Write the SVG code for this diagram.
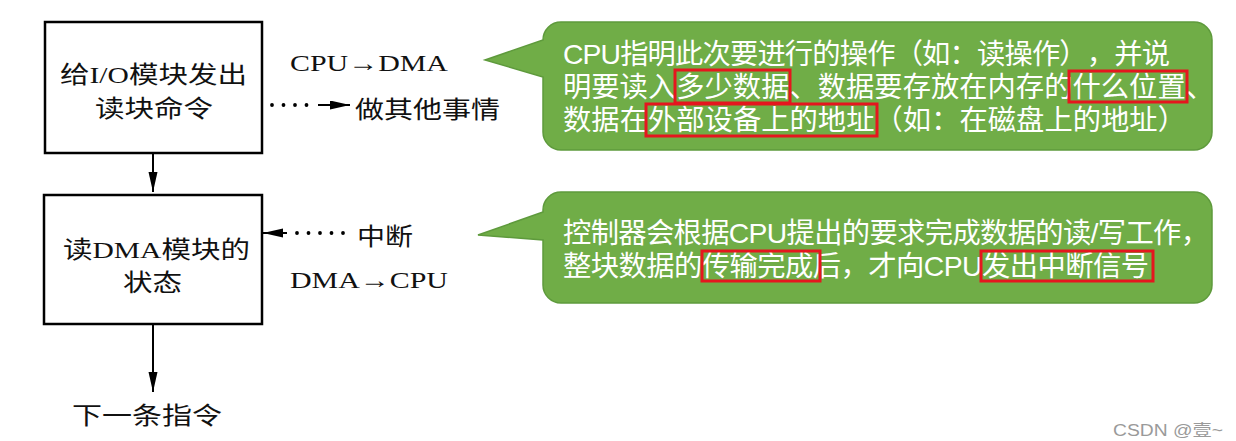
<svg xmlns="http://www.w3.org/2000/svg" width="1236" height="441" viewBox="0 0 1236 441">
<style>
.box{fill:#fff;stroke:#000;stroke-width:2.5}
.lt{font-family:"Liberation Serif","Noto Sans CJK SC",serif;font-size:24px;fill:#111}
.ct{font-family:"Liberation Sans","Noto Sans CJK SC","Noto Sans CJK JP",sans-serif;font-size:28.3px;fill:#fff;text-spacing-trim:space-all}
.call{fill:#70AD47;stroke:#5E9A3C;stroke-width:1.5}
.red{fill:none;stroke:#E5161E;stroke-width:3}
.ln{stroke:#000;stroke-width:2;fill:none}
.dots{stroke:#000;stroke-width:3.8;stroke-linecap:round;stroke-dasharray:0 11.5;fill:none}
</style>
<defs>
<marker id="ah" markerUnits="userSpaceOnUse" markerWidth="22" markerHeight="10" refX="20" refY="4.5" orient="auto">
<path d="M0,0 L20,4.5 L0,9 Z" fill="#000"/>
</marker>
</defs>
<rect width="1236" height="441" fill="#fff"/>

<g id="node-cmd">
<rect class="box" x="45" y="22" width="217" height="131"/>
<text class="lt" x="60" y="83" textLength="187" lengthAdjust="spacingAndGlyphs">给I/O模块发出</text>
<text class="lt" x="95" y="117" textLength="118" lengthAdjust="spacingAndGlyphs">读块命令</text>
</g>
<g id="node-read">
<rect class="box" x="44" y="195" width="218" height="129"/>
<text class="lt" x="63" y="258" textLength="187" lengthAdjust="spacingAndGlyphs">读DMA模块的</text>
<text class="lt" x="123" y="291" textLength="59" lengthAdjust="spacingAndGlyphs">状态</text>
</g>
<g id="node-next">
<text class="lt" x="72" y="424" textLength="150" lengthAdjust="spacingAndGlyphs">下一条指令</text>
</g>
<g id="node-other">
<text class="lt" x="290" y="71" textLength="158" lengthAdjust="spacingAndGlyphs">CPU→DMA</text>
<text class="lt" x="355" y="118" textLength="145" lengthAdjust="spacingAndGlyphs">做其他事情</text>
</g>
<g id="node-int">
<text class="lt" x="357" y="245" textLength="56" lengthAdjust="spacingAndGlyphs">中断</text>
<text class="lt" x="290" y="288" textLength="158" lengthAdjust="spacingAndGlyphs">DMA→CPU</text>
</g>

<g id="connectors">
<line class="ln" x1="153" y1="153" x2="153" y2="192" marker-end="url(#ah)"/>
<line class="ln" x1="153" y1="324" x2="153" y2="392" marker-end="url(#ah)"/>
<line class="dots" x1="272" y1="105" x2="312" y2="105"/>
<line class="ln" x1="318" y1="105" x2="350" y2="105" marker-end="url(#ah)"/>
<line class="dots" x1="297" y1="233" x2="345" y2="233"/>
<line class="ln" x1="287" y1="233" x2="263" y2="233" marker-end="url(#ah)"/>
</g>

<g id="callout-1">
<path class="call" d="M561,22 H1194 A18,18 0 0 1 1212,40 V132 A18,18 0 0 1 1194,150 H561 A18,18 0 0 1 543,132 V77 L485,60 L543,40 A18,18 0 0 1 561,22 Z"/>
<text class="ct" x="563" y="64" textLength="607" lengthAdjust="spacing">CPU指明此次要进行的操作（如：读操作），并说</text>
<text class="ct" x="563" y="97" textLength="651" lengthAdjust="spacing">明要读入多少数据、数据要存放在内存的什么位置、</text>
<text class="ct" x="563" y="130" textLength="623" lengthAdjust="spacing">数据在外部设备上的地址（如：在磁盘上的地址）</text>
<rect class="red" x="675" y="70" width="115" height="33"/>
<rect class="red" x="1069" y="71" width="118" height="31"/>
<rect class="red" x="646" y="104" width="231" height="32"/>
</g>

<g id="callout-2">
<path class="call" d="M561,192 H1194 A18,18 0 0 1 1212,210 V285 A18,18 0 0 1 1194,303 H561 A18,18 0 0 1 543,285 V240 L478,235 L543,212 V210 A18,18 0 0 1 561,192 Z"/>
<text class="ct" x="563" y="243" textLength="646" lengthAdjust="spacing">控制器会根据CPU提出的要求完成数据的读/写工作，</text>
<text class="ct" x="563" y="276" textLength="586" lengthAdjust="spacing">整块数据的传输完成后，才向CPU发出中断信号</text>
<rect class="red" x="702" y="251" width="118" height="30"/>
<rect class="red" x="981" y="251" width="172" height="30"/>
</g>

<text x="1113" y="436" font-family="'Liberation Sans','Noto Sans CJK SC',sans-serif" font-size="16" fill="#9a9a9a" textLength="110" lengthAdjust="spacingAndGlyphs">CSDN @壹~</text>
</svg>
